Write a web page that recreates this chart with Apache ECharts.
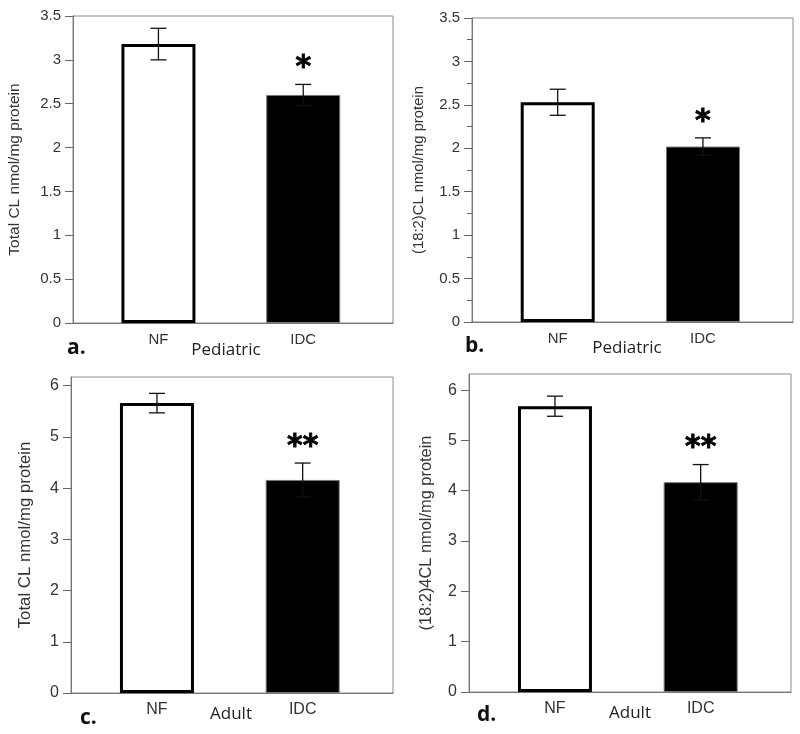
<!DOCTYPE html>
<html><head><meta charset="utf-8">
<script src="https://cdn.jsdelivr.net/npm/echarts@6/dist/echarts.min.js"></script>
<style>html,body{margin:0;padding:0;background:#fff}#c{width:800px;height:734px}</style>
</head><body><div id="c"></div>
<script>
const categories = ['NF', 'IDC'];
const valuesA = [3.18, 2.60];
const errorsA = [0.18, 0.12];
const valuesB = [2.53, 2.02];
const errorsB = [0.15, 0.10];
const valuesC = [5.66, 4.16];
const errorsC = [0.19, 0.33];
const valuesD = [5.68, 4.17];
const errorsD = [0.20, 0.35];
const sigA = ['', '*'];
const sigB = ['', '*'];
const sigC = ['', '**'];
const sigD = ['', '**'];
const yTicksCD = [0, 1, 2, 3, 4, 5, 6];
const yNames = ['Total CL nmol/mg protein', '(18:2)CL nmol/mg protein', 'Total CL nmol/mg protein', '(18:2)4CL nmol/mg protein'];
const panelLetters = ['a.', 'b.', 'c.', 'd.'];
const groupNames = ['Pediatric', 'Pediatric', 'Adult', 'Adult'];

const panels = [
  {values: valuesA, errors: errorsA, sig: sigA, grid: {left: 73, top: 16, width: 320, height: 307}, yMax: 3.5, interval: 0.5, minor: false, nameGap: 50, tickFont: 15, nameFont: 15.5},
  {values: valuesB, errors: errorsB, sig: sigB, grid: {left: 472, top: 18, width: 321, height: 304}, yMax: 3.5, interval: 0.5, minor: true, nameGap: 46, tickFont: 15, nameFont: 14.8},
  {values: valuesC, errors: errorsC, sig: sigC, grid: {left: 71, top: 377, width: 322, height: 316}, yMax: 6.17, ticks: yTicksCD, minor: false, nameGap: 37, tickFont: 16, nameFont: 16.8},
  {values: valuesD, errors: errorsD, sig: sigD, grid: {left: 469, top: 374, width: 322, height: 318}, yMax: 6.32, ticks: yTicksCD, minor: false, nameGap: 35, tickFont: 16, nameFont: 16.4}
];

const FONT = 'Liberation Sans, Arial, sans-serif';
const grids = [], xAxes = [], yAxes = [], series = [];

panels.forEach((p, i) => {
  grids.push(Object.assign({show: true, borderColor: '#8a8a8a', borderWidth: 1, backgroundColor: 'transparent'}, p.grid));
  xAxes.push({
    type: 'value', gridIndex: i, min: -0.59, max: 1.62,
    axisLine: {show: true, onZero: false, lineStyle: {color: '#777', width: 1}},
    axisTick: {show: false},
    splitLine: {show: false},
    axisLabel: {customValues: [0, 1], formatter: v => categories[Math.round(v)] || '', color: '#333', fontFamily: FONT, fontSize: p.tickFont, margin: 9}
  });
  const y = {
    type: 'value', gridIndex: i, min: 0, max: p.yMax,
    name: yNames[i], nameLocation: 'middle', nameGap: p.nameGap,
    nameTextStyle: {color: '#333', fontFamily: FONT, fontSize: p.nameFont},
    axisLine: {show: true, onZero: false, lineStyle: {color: '#777', width: 1}},
    axisTick: {show: true, length: 8, lineStyle: {color: '#666'}},
    splitLine: {show: false},
    axisLabel: {color: '#333', fontFamily: FONT, fontSize: p.tickFont, margin: 12}
  };
  if (p.ticks) {
    y.axisTick.customValues = p.ticks;
    y.axisLabel.customValues = p.ticks;
  } else {
    y.interval = p.interval;
  }
  if (p.minor) {
    y.minorTick = {show: true, splitNumber: 2, length: 5, lineStyle: {color: '#666'}};
  }
  yAxes.push(y);

  series.push({
    type: 'bar', xAxisIndex: i, yAxisIndex: i, barWidth: 74, z: 2,
    data: p.values.map((v, k) => ({
      value: [k, v],
      itemStyle: k === 0 ? {color: '#ffffff', borderColor: '#000', borderWidth: 3} : {color: '#000', borderColor: '#777', borderWidth: 1}
    }))
  });
  series.push({
    type: 'custom', xAxisIndex: i, yAxisIndex: i, z: 5,
    encode: {x: 0, y: 1},
    data: p.values.map((v, k) => [k, v, p.errors[k]]),
    renderItem: (params, api) => {
      const x = api.value(0), m = api.value(1), e = api.value(2);
      const t = api.coord([x, m + e]), b = api.coord([x, m - e]);
      const hw = 8, st = {stroke: '#111', lineWidth: 1.3};
      return {type: 'group', children: [
        {type: 'line', shape: {x1: t[0], y1: t[1], x2: b[0], y2: b[1]}, style: st},
        {type: 'line', shape: {x1: t[0] - hw, y1: t[1], x2: t[0] + hw, y2: t[1]}, style: st},
        {type: 'line', shape: {x1: b[0] - hw, y1: b[1], x2: b[0] + hw, y2: b[1]}, style: st}
      ]};
    }
  });
  series.push({
    type: 'custom', xAxisIndex: i, yAxisIndex: i, z: 6,
    encode: {x: 0, y: 1},
    data: p.values.map((v, k) => [k, v + p.errors[k], k]),
    renderItem: (params, api) => {
      const k = api.value(2);
      const pt = api.coord([api.value(0), api.value(1)]);
      return {type: 'text', style: {text: p.sig[k], x: pt[0], y: pt[1] - 25 + 9, align: 'center', verticalAlign: 'middle', font: 'bold 30px DejaVu Sans', fill: '#000', stroke: '#000', lineWidth: 0.8}};
    }
  });
});

const letterPos = [[67, 349], [465, 347], [80, 719], [477, 716]];
const groupPos = [[226, 350], [627, 348], [231, 714], [630, 713]];
const graphic = [];
panelLetters.forEach((t, i) => {
  graphic.push({type: 'text', left: letterPos[i][0], top: letterPos[i][1] - 11, style: {text: t, font: 'bold 21px "Open Sans"', fill: '#111'}});
  graphic.push({type: 'text', x: groupPos[i][0], y: groupPos[i][1], style: {text: groupNames[i], font: '17px "Open Sans"', fill: '#222', align: 'center', verticalAlign: 'middle'}});
});

const chart = echarts.init(document.getElementById('c'), null, {renderer: 'canvas'});
chart.setOption({animation: false, grid: grids, xAxis: xAxes, yAxis: yAxes, series: series, graphic: graphic});
</script>
</body></html>
